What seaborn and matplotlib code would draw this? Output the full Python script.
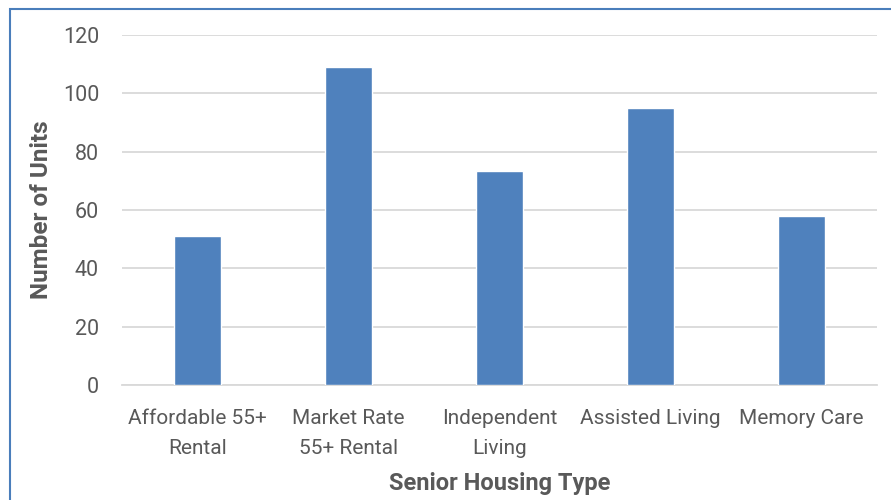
import matplotlib
matplotlib.use("Agg")
import matplotlib.pyplot as plt
import seaborn as sns
import pandas as pd
from matplotlib.patches import Rectangle

categories = ["Affordable 55+\nRental", "Market Rate\n55+ Rental", "Independent\nLiving",
              "Assisted Living", "Memory Care"]
units = [51, 109, 73.5, 95, 58]
y_ticks = [0, 20, 40, 60, 80, 100, 120]

sns.set_theme(style="white")
plt.rcParams["font.family"] = ["Roboto", "DejaVu Sans"]

text_color = "#595959"
bar_color = "#4f81bd"

df = pd.DataFrame({"Senior Housing Type": categories, "Number of Units": units})

fig = plt.figure(figsize=(8.91, 5.0), dpi=100)
ax = fig.add_axes([122 / 891, 1 - 385 / 500, (877 - 122) / 891, (385 - 35) / 500])

sns.barplot(data=df, x="Senior Housing Type", y="Number of Units", color=bar_color,
            width=0.31, saturation=1, ax=ax, zorder=3)

ax.set_ylim(0, 120)
ax.set_yticks(y_ticks)
ax.yaxis.grid(True, color="#d9d9d9", linewidth=1.3, zorder=0)
ax.set_axisbelow(True)
for side in ["top", "right", "left"]:
    ax.spines[side].set_visible(False)
ax.spines["bottom"].set_color("#d9d9d9")
ax.spines["bottom"].set_linewidth(1.3)
ax.tick_params(axis="both", length=0, colors=text_color)
ax.tick_params(axis="x", labelsize=15, pad=17)
ax.tick_params(axis="y", labelsize=15.5, pad=16.5)
for lbl in ax.get_xticklabels():
    lbl.set_linespacing(1.75)

ax.set_xlabel("Senior Housing Type", fontsize=17, fontweight="bold", color=text_color, labelpad=10)
ax.set_ylabel("Number of Units", fontsize=17.5, fontweight="bold", color=text_color, labelpad=7)

# outer frame of the chart box
fig.patches.append(Rectangle((10 / 891, -0.1), 1.2, 1 - 9 / 500 + 0.1, transform=fig.transFigure,
                             fill=False, edgecolor="#4a7ebb", linewidth=1.5))

fig.savefig("out.png", dpi=100)
